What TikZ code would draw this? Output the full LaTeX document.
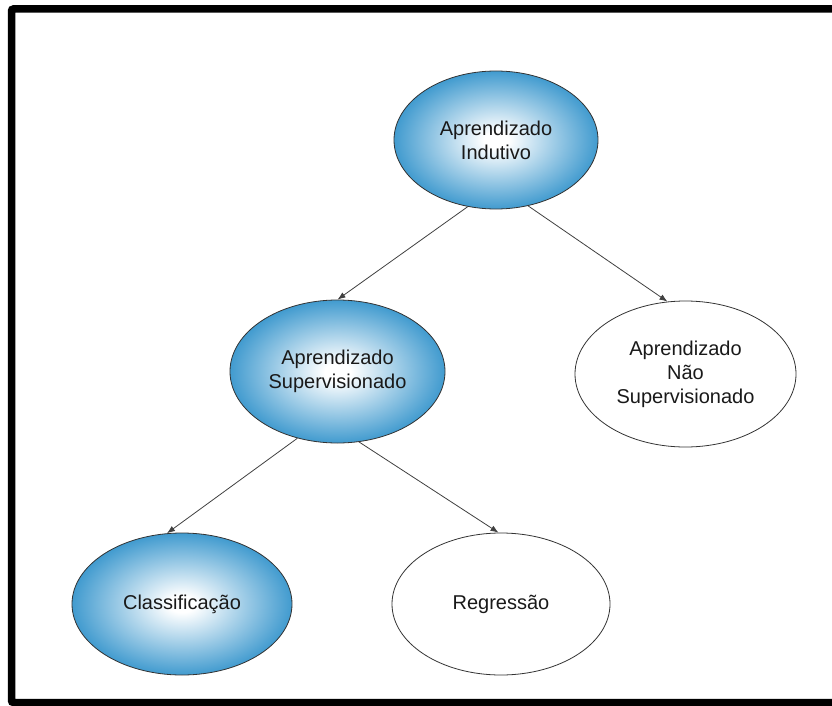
\documentclass[tikz,border=0pt]{standalone}
\usepackage{fontspec}
\setmainfont{Liberation Sans}
\usetikzlibrary{shapes.geometric,arrows.meta}
\definecolor{ballblue}{RGB}{22,132,196}
\pgfdeclareradialshading{glow}{\pgfpoint{0bp}{0bp}}{color(0bp)=(white); color(3bp)=(white); color(30bp)=(ballblue); color(50bp)=(ballblue)}
\begin{document}
\begin{tikzpicture}[x=1pt,y=-1pt,
  every node/.style={font=\fontsize{20}{24}\selectfont,align=center,text=black!90},
  bubble/.style={ellipse,draw=black!80,line width=0.8pt,inner sep=0pt},
  shaded/.style={bubble,shading=glow},
  link/.style={-{Latex[length=8pt,width=6pt]},draw=black!75,line width=0.8pt}]
\useasboundingbox (0,0) rectangle (832,706);
\draw[line width=7.5pt,rounded corners=2pt] (11.5,9) rectangle (845,702.5);
% the tree
\node[shaded,minimum width=204pt,minimum height=138pt] (ind) at (496,140) {Aprendizado\\Indutivo};
\node[shaded,minimum width=215pt,minimum height=143pt] (sup) at (337.5,371.5) {Aprendizado\\Supervisionado};
\node[bubble,minimum width=221pt,minimum height=146pt] (nsup) at (685.5,374) {Aprendizado\\Não\\Supervisionado};
\node[shaded,minimum width=220pt,minimum height=142pt] (cls) at (182,604) {Classificação};
\node[bubble,minimum width=218pt,minimum height=142pt] (reg) at (501,604) {Regressão};
% links
\draw[link] (ind.247.5) -- (sup.north);
\draw[link] (ind.296) -- (nsup.104.4);
\draw[link] (sup.239) -- (cls.102.7);
\draw[link] (sup.287) -- (reg.92.4);
\end{tikzpicture}
\end{document}
